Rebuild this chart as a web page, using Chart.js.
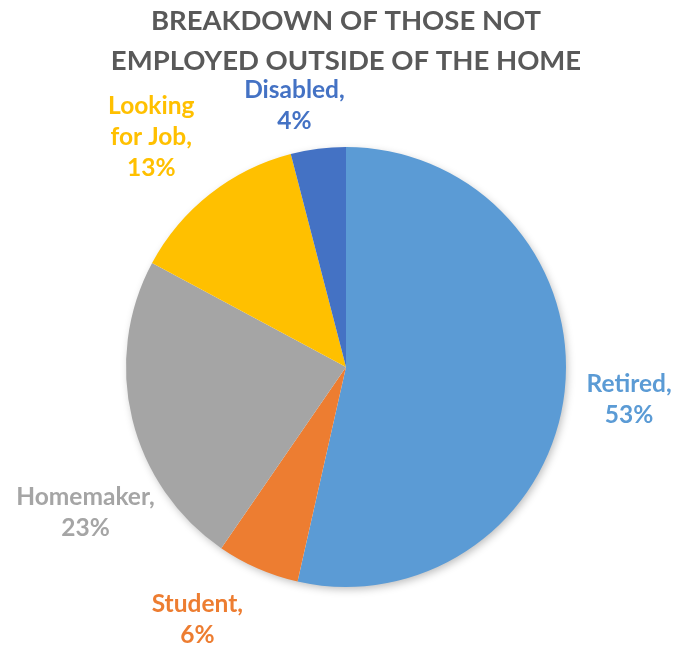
<!DOCTYPE html>
<html>
<head>
<meta charset="utf-8">
<script src="https://cdn.jsdelivr.net/npm/chart.js@4.4.1/dist/chart.umd.min.js"></script>
<style>
  html, body { margin: 0; padding: 0; background: #ffffff; }
  #wrap { width: 687px; height: 645px; }
</style>
</head>
<body>
<div id="wrap"><canvas id="pie" width="687" height="645"></canvas></div>
<script>
// Status of respondents who are not employed outside the home (percent)
const categories = ["Retired", "Student", "Homemaker", "Looking for Job", "Disabled"];
const shares = [53, 6, 23, 13, 4];
const sliceColors = ["#5B9BD5", "#ED7D31", "#A5A5A5", "#FFC000", "#4472C4"];
const titleLines = ["BREAKDOWN OF THOSE NOT", "EMPLOYED OUTSIDE OF THE HOME"];

const FONT = "Lato, 'Open Sans', sans-serif";

// Soft drop shadow behind the pie
const pieShadow = {
  id: "pieShadow",
  beforeDatasetsDraw(chart) {
    const arc = chart.getDatasetMeta(0).data[0];
    if (!arc) return;
    const { x, y, outerRadius } = arc.getProps(["x", "y", "outerRadius"], true);
    const ctx = chart.ctx;
    ctx.save();
    ctx.shadowColor = "rgba(0,0,0,0.28)";
    ctx.shadowBlur = 9;
    ctx.shadowOffsetX = 2;
    ctx.shadowOffsetY = 3;
    ctx.fillStyle = "#ffffff";
    ctx.beginPath();
    ctx.arc(x, y, outerRadius - 1, 0, Math.PI * 2);
    ctx.fill();
    ctx.restore();
  }
};

// "Category, NN%" labels outside each slice
const outsideLabels = {
  id: "outsideLabels",
  afterDatasetsDraw(chart, args, opts) {
    const ctx = chart.ctx;
    const meta = chart.getDatasetMeta(0);
    const ds = chart.data.datasets[0];
    ctx.save();
    ctx.font = `bold ${opts.size}px ${FONT}`;
    ctx.textAlign = "center";
    ctx.textBaseline = "middle";
    meta.data.forEach((arc, i) => {
      const p = arc.getProps(["x", "y", "startAngle", "endAngle", "outerRadius"], true);
      const mid = (p.startAngle + p.endAngle) / 2;
      const ux = Math.cos(mid), uy = Math.sin(mid);
      const dist = p.outerRadius + opts.gap;
      const ax = p.x + ux * dist, ay = p.y + uy * dist;

      // word-wrap "Name," then the percentage on its own line
      const words = (chart.data.labels[i] + ",").split(" ");
      const lines = [];
      let cur = "";
      words.forEach(w => {
        const t = cur ? cur + " " + w : w;
        if (cur && ctx.measureText(t).width > opts.maxWidth) { lines.push(cur); cur = w; }
        else cur = t;
      });
      lines.push(cur);
      lines.push(ds.data[i] + "%");

      const w = Math.max(...lines.map(l => ctx.measureText(l).width));
      const h = lines.length * opts.lineHeight;
      const clamp = v => Math.max(-1, Math.min(1, v));
      const nudge = opts.nudge[i] || [0, 0];
      const cx = ax + clamp(ux * 2.5) * w / 2 + nudge[0];
      const cy = ay + clamp(uy * 2.5) * h / 2 + nudge[1];
      const top = cy - h / 2;

      ctx.fillStyle = sliceColors[i];
      lines.forEach((l, k) => ctx.fillText(l, cx, top + opts.lineHeight * (k + 0.5)));
    });
    ctx.restore();
  }
};

new Chart(document.getElementById("pie"), {
  type: "pie",
  data: {
    labels: categories,
    datasets: [{
      data: shares,
      backgroundColor: sliceColors,
      borderWidth: 0
    }]
  },
  options: {
    responsive: false,
    animation: false,
    layout: { padding: { left: 5, right: 0, top: 0, bottom: 58 } },
    plugins: {
      legend: { display: false },
      tooltip: { enabled: false },
      title: {
        display: true,
        text: titleLines,
        color: "#595959",
        font: { family: FONT, size: 27.5, weight: "bold", lineHeight: 40 / 27.5 },
        padding: { top: 1, bottom: 66 }
      },
      outsideLabels: {
        size: 24.5,
        lineHeight: 31,
        gap: 22,
        maxWidth: 120,
        nudge: [[0, -3], [-6, 0], [44, 70], [-2, 7], [-5, 10]]
      }
    }
  },
  plugins: [pieShadow, outsideLabels]
});
</script>
</body>
</html>
